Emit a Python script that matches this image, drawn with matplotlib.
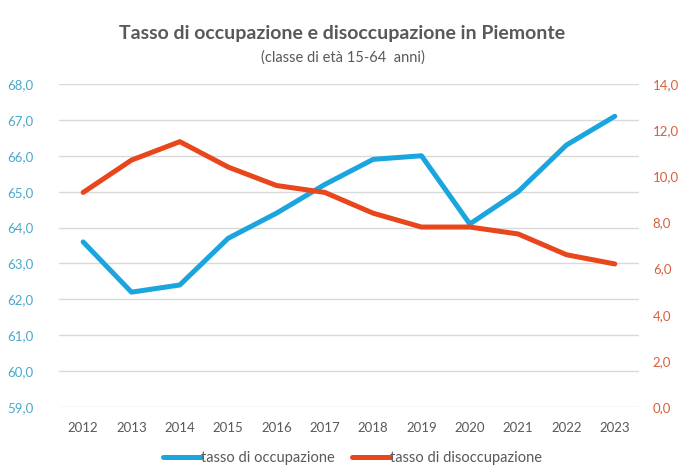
import numpy as np
import matplotlib.pyplot as plt
from matplotlib.ticker import FuncFormatter

anni = ['2012', '2013', '2014', '2015', '2016', '2017', '2018', '2019', '2020', '2021', '2022', '2023']
occupazione = [63.6, 62.2, 62.4, 63.7, 64.4, 65.2, 65.9, 66.0, 64.1, 65.0, 66.3, 67.1]
disoccupazione = [9.3, 10.7, 11.5, 10.4, 9.6, 9.3, 8.4, 7.8, 7.8, 7.5, 6.6, 6.2]

blu = '#1ba5de'
rosso = '#e8461b'
plt.rcParams['font.family'] = ['Lato', 'DejaVu Sans']

fig = plt.figure(figsize=(6.85, 4.65), dpi=100)
ax = fig.add_axes([0.0861, 0.1247, 0.8467, 0.6947])
ax2 = ax.twinx()

x = np.arange(len(anni))
l1, = ax.plot(x, occupazione, color=blu, lw=3.6, solid_joinstyle='round', solid_capstyle='round',
              label='tasso di occupazione', zorder=3)
l2, = ax2.plot(x, disoccupazione, color=rosso, lw=3.6, solid_joinstyle='round', solid_capstyle='round',
               label='tasso di disoccupazione', zorder=3)

virgola = FuncFormatter(lambda v, p: ('%.1f' % v).replace('.', ','))

ax.set_xlim(-0.5, len(anni) - 0.5)
ax.set_ylim(59, 68)
ax.set_yticks(np.arange(59, 68.1, 1))
ax.yaxis.set_major_formatter(virgola)
ax2.set_ylim(0, 14)
ax2.set_yticks(np.arange(0, 14.1, 2))
ax2.yaxis.set_major_formatter(virgola)

ax.set_xticks(x)
ax.set_xticklabels(anni)
ax.grid(axis='y', color='#d9d9d9', lw=1)
ax.set_axisbelow(True)

for a in (ax, ax2):
    for s in a.spines.values():
        s.set_visible(False)
    a.tick_params(length=0)

ax.tick_params(axis='y', colors='#4aa8cc', labelsize=9.5, pad=37)
for t in ax.get_yticklabels():
    t.set_horizontalalignment('left')
ax2.tick_params(axis='y', colors='#d8603c', labelsize=9.5, pad=10)
ax.tick_params(axis='x', colors='#595959', labelsize=9.5, pad=11)

fig.text(0.5, 0.927, 'Tasso di occupazione e disoccupazione in Piemonte', ha='center', va='center',
         fontsize=14, fontweight='bold', color='#595959')
fig.text(0.5, 0.877, '(classe di età 15-64  anni)', ha='center', va='center',
         fontsize=10.5, color='#595959')

fig.legend(handles=[l1, l2], loc='center', bbox_to_anchor=(0.515, 0.015), ncol=2, frameon=False,
           fontsize=10.5, handlelength=2.6, handletextpad=0.0, columnspacing=1.2, labelcolor='#595959')

fig.savefig('out.png', dpi=100)
